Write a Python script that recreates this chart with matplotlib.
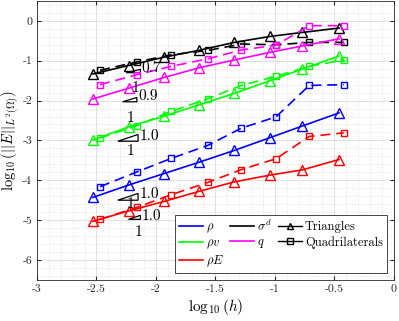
import matplotlib
matplotlib.use("Agg")
import matplotlib.pyplot as plt
from matplotlib.lines import Line2D
from matplotlib.ticker import MultipleLocator
import numpy as np

plt.rcParams['mathtext.fontset'] = 'cm'
plt.rcParams['font.family'] = 'cmr10'
plt.rcParams['axes.unicode_minus'] = False
plt.rcParams['axes.formatter.use_mathtext'] = False

# x positions (log10 h)
x_tri = [-2.53, -2.23, -1.93, -1.64, -1.34, -1.04, -0.77, -0.46]
x_quad = [-2.47, -2.16, -1.87, -1.56, -1.28, -0.99, -0.71, -0.42]

# Triangles (solid)
rho_tri = [-4.43, -4.12, -3.83, -3.55, -3.25, -2.93, -2.64, -2.31]
rhov_tri = [-2.99, -2.66, -2.39, -2.11, -1.82, -1.50, -1.21, -0.88]
rhoE_tri = [-5.03, -4.77, -4.53, -4.28, -4.04, -3.87, -3.74, -3.48]
sig_tri = [-1.33, -1.12, -0.91, -0.74, -0.54, -0.39, -0.29, -0.18]
q_tri = [-1.96, -1.69, -1.42, -1.18, -0.98, -0.79, -0.63, -0.45]

# Quadrilaterals (dashed)
rho_quad = [-4.16, -3.79, -3.45, -3.12, -2.69, -2.41, -1.62, -1.60]
rhov_quad = [-2.94, -2.63, -2.27, -1.95, -1.62, -1.39, -1.14, -0.98]
rhoE_quad = [-4.98, -4.68, -4.36, -4.05, -3.73, -3.46, -2.90, -2.81]
sig_quad = [-1.24, -1.03, -0.85, -0.74, -0.58, -0.60, -0.54, -0.54]
q_quad = [-1.60, -1.35, -1.14, -0.95, -0.73, -0.61, -0.12, -0.12]

series = [
    ('blue', rho_tri, rho_quad),
    ('#00ff00', rhov_tri, rhov_quad),
    ('red', rhoE_tri, rhoE_quad),
    ('black', sig_tri, sig_quad),
    ('magenta', q_tri, q_quad),
]

# slope triangles
slopes = [0.7, 0.9, 1.0, 1.0, 1.0]
slope_labels = ['0.7', '0.9', '1.0', '1.0', '1.0']
slope_x0 = [-2.25, -2.28, -2.32, -2.32, -2.23]
slope_x1 = [-2.13, -2.16, -2.15, -2.15, -2.13]
slope_yb = [-1.30, -2.03, -3.02, -4.50, -4.98]
lab_xy = [(-2.12, -1.18), (-2.15, -1.90), (-2.14, -2.90), (-2.14, -4.35), (-2.12, -4.90)]
one_xy = [(-2.17, -1.68), (-2.21, -2.43), (-2.21, -3.27), (-2.21, -4.60), (-2.15, -5.30)]

fig = plt.figure(figsize=(3.99, 3.21), dpi=100)
ax = fig.add_axes([0.0927, 0.128, 0.894, 0.869])

ax.set_xlim(-3, 0)
ax.set_ylim(-6.5, 0.5)
ax.xaxis.set_minor_locator(MultipleLocator(0.1))
ax.yaxis.set_minor_locator(MultipleLocator(0.2))
ax.grid(True, which='major', color='#dcdcdc', linewidth=0.6)
ax.grid(True, which='minor', color='#d0d0d0', linewidth=0.5, linestyle=(0, (1, 2)))
ax.set_axisbelow(True)
ax.tick_params(which='both', direction='in', length=0, labelsize=8.5, colors='#262626',
               top=True, right=True)
ax.tick_params(which='major', length=3)
for s in ax.spines.values():
    s.set_color('#262626')
    s.set_linewidth(0.6)

def fmt(v):
    if abs(v - round(v)) < 1e-9:
        return '%d' % round(v)
    return ('%g' % v)
xt = np.arange(-3, 0.01, 0.5)
yt = np.arange(-6, 0.01, 1)
ax.set_xticks(xt)
ax.set_xticklabels([fmt(v) for v in xt])
ax.set_yticks(yt)
ax.set_yticklabels([fmt(v) for v in yt])

for c, ytr, yq in series:
    ax.plot(x_tri, ytr, color=c, lw=1.2, marker='^', ms=6.5, mfc='none', mew=1.0)
    ax.plot(x_quad, yq, color=c, lw=1.2, ls=(0, (6, 3.5)), marker='s', ms=4.5, mfc='none', mew=1.0)

for i, s in enumerate(slopes):
    x0, x1, yb = slope_x0[i], slope_x1[i], slope_yb[i]
    ax.fill([x0, x1, x1, x0], [yb, yb, yb + s * (x1 - x0), yb], facecolor='none',
            edgecolor='black', lw=0.9)
    ax.text(lab_xy[i][0], lab_xy[i][1], slope_labels[i], fontsize=11, ha='left', va='center')
    ax.text(one_xy[i][0], one_xy[i][1], '1', fontsize=11, ha='center', va='center')

ax.set_xlabel(r'$\log_{10}(h)$', fontsize=11, labelpad=2)
ax.set_ylabel(r'$\log_{10}(||E||_{L^2(\Omega)})$', fontsize=10.5)
ax.yaxis.set_label_coords(-0.045, 0.5)

handles = [
    Line2D([], [], color='blue', lw=1.2),
    Line2D([], [], color='#00ff00', lw=1.2),
    Line2D([], [], color='red', lw=1.2),
    Line2D([], [], color='black', lw=1.2),
    Line2D([], [], color='magenta', lw=1.2),
    Line2D([], [], color='black', lw=1.0, marker='^', ms=5, mfc='none'),
    Line2D([], [], color='black', lw=1.0, marker='s', ms=4, mfc='none'),
]
labels = [r'$\rho$', r'$\rho v$', r'$\rho E$', r'$\sigma^d$', r'$q$', 'Triangles', 'Quadrilaterals']
leg = ax.legend(handles, labels, ncol=3, loc='lower right', bbox_to_anchor=(0.98, 0.025),
                fontsize=9, handlelength=1.9, handletextpad=0.25, columnspacing=0.5,
                labelspacing=0.2, borderpad=0.3, borderaxespad=0, fancybox=False, framealpha=1,
                edgecolor='#262626')
leg.get_frame().set_linewidth(0.6)

fig.savefig('out.png', dpi=100)
